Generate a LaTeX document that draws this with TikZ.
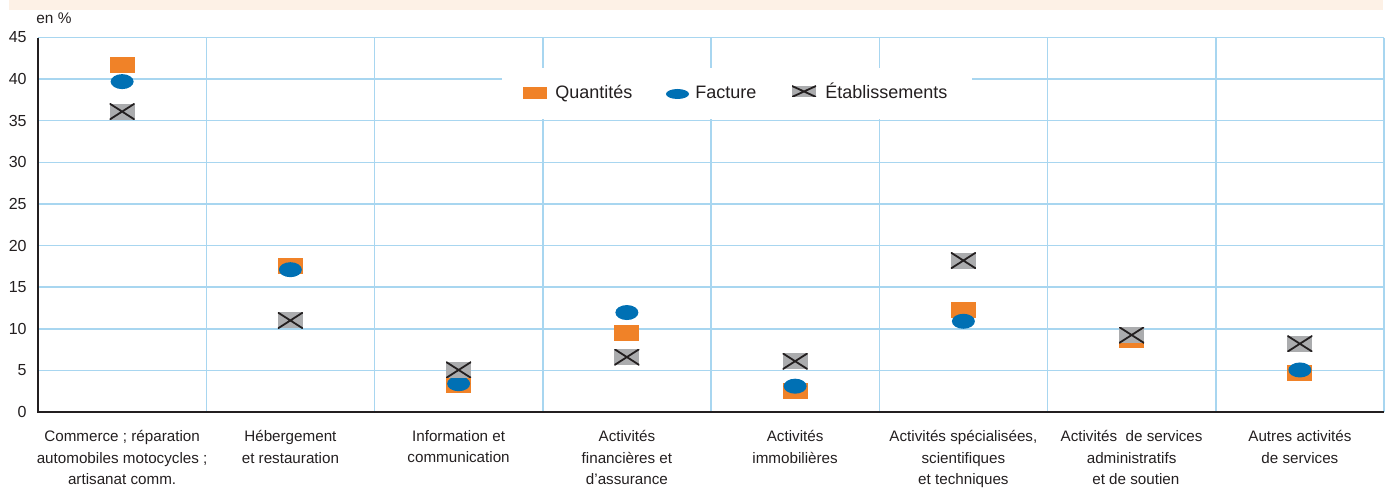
\documentclass[tikz,border=0pt]{standalone}
\usepackage{fontspec}
\setmainfont{Liberation Sans}
\usetikzlibrary{shapes.geometric}
\definecolor{orangeC}{RGB}{240,130,40}
\definecolor{blueC}{RGB}{0,112,180}
\definecolor{grayC}{RGB}{171,172,174}
\definecolor{gridC}{RGB}{168,214,240}
\definecolor{beigeC}{RGB}{253,241,230}
\definecolor{txtC}{RGB}{35,31,32}
\begin{document}
\begin{tikzpicture}[x=0.5pt,y=-0.5pt,
  declare function={Y(\v)=412-8.322*\v;},
  gridline/.style={draw=gridC,line width=0.75pt},
  axisline/.style={draw=txtC,line width=1.1pt},
  qty/.style={rectangle,fill=orangeC,minimum width=12.5pt,minimum height=8pt,inner sep=0pt},
  fac/.style={ellipse,fill=blueC,minimum width=11.5pt,minimum height=7.5pt,inner sep=0pt},
  eta/.style={rectangle,fill=grayC,minimum width=12.5pt,minimum height=8pt,inner sep=0pt,
    path picture={\draw[line width=0.9pt,txtC]
      (path picture bounding box.north west) -- (path picture bounding box.south east)
      (path picture bounding box.south west) -- (path picture bounding box.north east);}},
  tick/.style={anchor=east,inner sep=0pt,text=txtC,font=\fontsize{8}{9}\selectfont},
  catlabel/.style={anchor=north,inner sep=0pt,align=center,text=txtC,font=\fontsize{7.6}{10.75}\selectfont},
  legtext/.style={anchor=base west,inner sep=0pt,text=txtC,font=\fontsize{9}{10}\selectfont}
]
\useasboundingbox (0,0) rectangle (1386,490);
\fill[beigeC] (9,0) rectangle (1383,10);

% horizontal grid
\foreach \v in {5,10,...,45}{
  \draw[gridline] (38,{Y(\v)}) -- (1384,{Y(\v)});
}
% vertical grid
\foreach \k in {1,...,8}{
  \draw[gridline] ({38+168.25*\k},{Y(45)}) -- ({38+168.25*\k},412);
}
% legend background
\node[fill=white,minimum width=235pt,minimum height=25.5pt,inner sep=0pt] (legbox) at (737,93.5) {};
% axes
\coordinate (otop) at (38,{Y(45)});
\coordinate (orig) at (38,412);
\coordinate (xend) at (1384,412);
\draw[axisline] (otop) -- (orig) -- (xend);

% tick labels
\foreach \v in {0,5,...,45}{
  \node[tick] (t\v) at (27,{Y(\v)}) {\v};
}
\node[anchor=west,inner sep=0pt,text=txtC,font=\fontsize{7.7}{9}\selectfont] (unit) at (36,18) {en \%};

% legend
\node[qty,minimum width=12pt,minimum height=6pt] (lq) at (535,93) {};
\node[legtext] (lqt) at (555,99) {Quantités};
\node[fac,minimum width=11.5pt,minimum height=5pt] (lf) at (677.5,94) {};
\node[legtext] (lft) at (695,99) {Facture};
\node[eta,minimum width=12pt,minimum height=5.5pt] (le) at (804,91.5) {};
\node[legtext] (let) at (825,99) {Établissements};

% data
\foreach \i/\q in {0/41.7,1/17.6,2/3.2,3/9.5,4/2.5,5/12.2,6/8.65,7/4.7}{
  \node[qty] (q\i) at ({38+168.25*(\i+0.5)},{Y(\q)}) {};
}
\foreach \i/\f in {0/39.7,1/17.1,2/3.4,3/11.95,4/3.1,5/10.9,7/5.05}{
  \node[fac] (f\i) at ({38+168.25*(\i+0.5)},{Y(\f)}) {};
}
\foreach \i/\e in {0/36.1,1/11.0,2/5.05,3/6.6,4/6.1,5/18.2,6/9.25,7/8.2}{
  \node[eta] (e\i) at ({38+168.25*(\i+0.5)},{Y(\e)}) {};
}

% category labels
\node[catlabel] (c0) at (122.1,430) {Commerce ; réparation\\automobiles motocycles ;\\artisanat comm.};
\node[catlabel] (c1) at (290.4,430) {Hébergement\\et restauration};
\node[catlabel] (c2) at (458.6,430) {Information et\\communication};
\node[catlabel] (c3) at (626.9,430) {Activités\\financières et\\d’assurance};
\node[catlabel] (c4) at (795.1,430) {Activités\\immobilières};
\node[catlabel] (c5) at (963.4,430) {Activités spécialisées,\\scientifiques\\et techniques};
\node[catlabel] (c6) at (1131.6,430) {Activités\ \ de services\\administratifs\\\ \ et de soutien};
\node[catlabel] (c7) at (1299.9,430) {Autres activités\\de services};
\end{tikzpicture}
\end{document}
